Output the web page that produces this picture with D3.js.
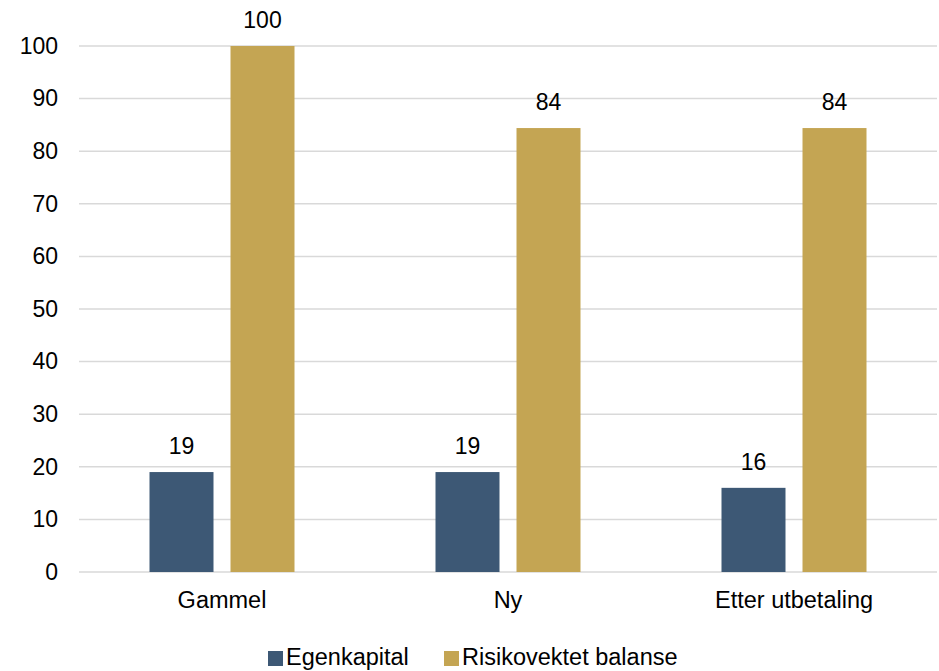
<!DOCTYPE html>
<html><head><meta charset="utf-8">
<script src="https://cdn.jsdelivr.net/npm/d3@7"></script>
<style>body{margin:0;background:#fff;} text{font-family:"Liberation Sans",Arial,sans-serif;fill:#000;}</style>
</head><body>
<svg id="c" width="939" height="671"></svg>
<script>
const categories = ["Gammel", "Ny", "Etter utbetaling"];
const seriesNames = ["Egenkapital", "Risikovektet balanse"];
const egenkapital = [19, 19, 16];
const risikovektet = [100, 84.4, 84.4];
const valueLabels = [["19","19","16"],["100","84","84"]];
const yTicks = [0,10,20,30,40,50,60,70,80,90,100];
const colors = ["#3D5875", "#C4A553"];

(function(){
const svg = d3.select("#c");
const pL = 79, pR = 937, pT = 46, pB = 572;
const fsNum = 23, fsTxt = 23.5;
const x0 = d3.scaleBand().domain(categories).range([pL, pR]).paddingInner(0).paddingOuter(0);
const x1 = d3.scaleBand().domain(seriesNames).range([-72.5, 72.5]).paddingInner(0.21).paddingOuter(0);
const y = d3.scaleLinear().domain([0, 100]).range([pB, pT]);

svg.append("g").selectAll("line").data(yTicks).join("line")
  .attr("x1", pL).attr("x2", pR)
  .attr("y1", d => y(d)).attr("y2", d => y(d))
  .attr("stroke", "#D9D9D9").attr("stroke-width", 1.5);

const yAxis = d3.axisLeft(y).tickValues(yTicks).tickSize(0).tickPadding(0);
const ya = svg.append("g").attr("transform", `translate(58,0)`).call(yAxis);
ya.select(".domain").remove();
ya.selectAll("text").attr("font-size", fsNum).attr("font-family", "Liberation Sans, Arial, sans-serif").attr("fill", "#000");

const xAxis = d3.axisBottom(x0).tickSize(0).tickPadding(0);
const xa = svg.append("g").attr("transform", `translate(0,${pB + 19.5})`).call(xAxis);
xa.select(".domain").remove();
xa.selectAll("text").attr("font-size", fsTxt).attr("font-family", "Liberation Sans, Arial, sans-serif").attr("fill", "#000");

const series = [egenkapital, risikovektet];
series.forEach((vals, si) => {
  const g = svg.append("g");
  g.selectAll("rect").data(vals).join("rect")
    .attr("x", (d, i) => x0(categories[i]) + x0.bandwidth() / 2 + x1(seriesNames[si]))
    .attr("y", d => y(d))
    .attr("width", x1.bandwidth())
    .attr("height", d => y(0) - y(d))
    .attr("fill", colors[si]);
  g.selectAll("text").data(vals).join("text")
    .attr("x", (d, i) => x0(categories[i]) + x0.bandwidth() / 2 + x1(seriesNames[si]) + x1.bandwidth() / 2)
    .attr("y", d => y(d) - 18)
    .attr("text-anchor", "middle")
    .attr("font-size", fsNum)
    .text((d, i) => valueLabels[si][i]);
});

const legendX = [268, 444];
const lg = svg.append("g");
seriesNames.forEach((n, i) => {
  lg.append("rect").attr("x", legendX[i]).attr("y", 651).attr("width", 15).attr("height", 15).attr("fill", colors[i]);
  lg.append("text").attr("x", legendX[i] + 18).attr("y", 664.5).attr("font-size", fsTxt).text(n);
});
})();
</script>
</body></html>
